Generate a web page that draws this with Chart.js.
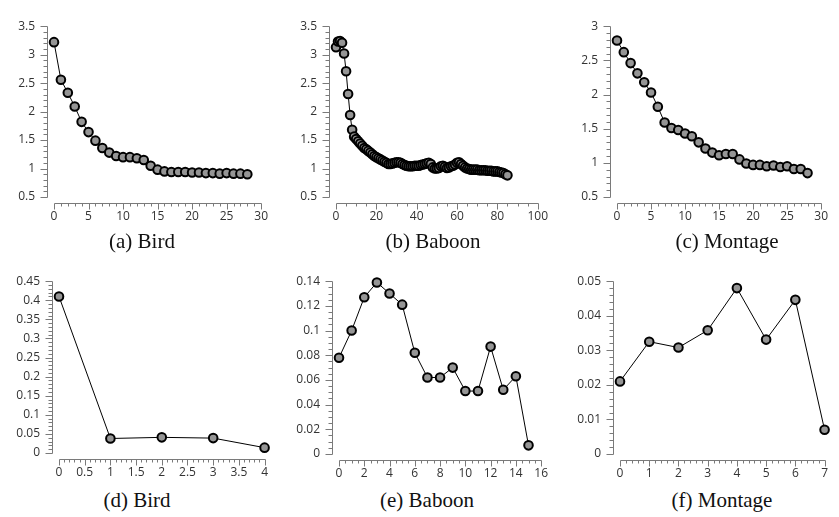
<!DOCTYPE html>
<html>
<head>
<meta charset="utf-8">
<script src="https://cdn.jsdelivr.net/npm/chart.js@4.4.0/dist/chart.umd.min.js"></script>
<style>
  body { margin: 0; background: #fff; width: 839px; height: 517px; position: relative; overflow: hidden; }
  .p { position: absolute; width: 280px; height: 230px; }
  .cap { position: absolute; width: 240px; text-align: center; font-family: "Liberation Serif", serif; font-size: 21px; line-height: 24px; color: #111; }
</style>
</head>
<body>
<canvas id="c0" class="p" width="280" height="230" style="left:0;top:0"></canvas>
<canvas id="c1" class="p" width="280" height="230" style="left:280px;top:0"></canvas>
<canvas id="c2" class="p" width="280" height="230" style="left:560px;top:0"></canvas>
<canvas id="c3" class="p" width="280" height="230" style="left:0;top:255px"></canvas>
<canvas id="c4" class="p" width="280" height="230" style="left:280px;top:255px"></canvas>
<canvas id="c5" class="p" width="280" height="230" style="left:560px;top:255px"></canvas>

<div class="cap" style="left:22px;top:229px">(a) Bird</div>
<div class="cap" style="left:313px;top:229px">(b) Baboon</div>
<div class="cap" style="left:607px;top:229px">(c) Montage</div>
<div class="cap" style="left:17px;top:488px">(d) Bird</div>
<div class="cap" style="left:307px;top:488px">(e) Baboon</div>
<div class="cap" style="left:602px;top:488px">(f) Montage</div>

<script>
// top row: loss per iteration
const birdLoss = [3.22, 2.56, 2.33, 2.09, 1.82, 1.64, 1.49, 1.36, 1.28, 1.22, 1.2, 1.2, 1.18, 1.15, 1.05, 0.98, 0.95, 0.94, 0.94, 0.94, 0.93, 0.93, 0.92, 0.92, 0.91, 0.92, 0.91, 0.91, 0.9];
const baboonLoss = [3.13, 3.23, 3.24, 3.21, 3.02, 2.71, 2.31, 1.94, 1.68, 1.56, 1.52, 1.48, 1.44, 1.4, 1.36, 1.34, 1.31, 1.28, 1.25, 1.22,
  1.2, 1.18, 1.16, 1.14, 1.12, 1.1, 1.08, 1.08, 1.09, 1.1, 1.11, 1.11, 1.1, 1.08, 1.06, 1.05, 1.04, 1.04, 1.04, 1.05,
  1.05, 1.05, 1.06, 1.07, 1.08, 1.09, 1.1, 1.08, 1.02, 1.0, 1.0, 1.01, 1.04, 1.05, 1.03, 1.01, 1.02, 1.04, 1.05, 1.07,
  1.1, 1.11, 1.08, 1.05, 1.02, 1.0, 0.99, 0.98, 0.98, 0.98, 0.98, 0.97, 0.97, 0.97, 0.97, 0.96, 0.96, 0.96, 0.95, 0.95,
  0.95, 0.94, 0.93, 0.92, 0.9, 0.88];
const montageLoss = [2.79, 2.62, 2.46, 2.31, 2.18, 2.03, 1.82, 1.59, 1.51, 1.48, 1.43, 1.39, 1.3, 1.21, 1.15, 1.11, 1.13, 1.13, 1.05, 0.99, 0.97, 0.97, 0.95, 0.96, 0.94, 0.95, 0.91, 0.91, 0.85];

// bottom row
const birdDiff = [0.41, 0.038, 0.041, 0.039, 0.014];
const baboonDiff = [0.078, 0.1, 0.127, 0.139, 0.13, 0.121, 0.082, 0.062, 0.062, 0.07, 0.051, 0.051, 0.087, 0.052, 0.063, 0.007];
const montageDiff = [0.021, 0.0325, 0.0308, 0.0358, 0.048, 0.0331, 0.0446, 0.007];

// tick labels
const lossTicks = [0.5, 1, 1.5, 2, 2.5, 3, 3.5];
const montageLossTicks = [0.5, 1, 1.5, 2, 2.5, 3];
const iterTicks30 = [0, 5, 10, 15, 20, 25, 30];
const iterTicks100 = [0, 20, 40, 60, 80, 100];
const birdDiffTicks = [0, 0.05, 0.1, 0.15, 0.2, 0.25, 0.3, 0.35, 0.4, 0.45];
const birdDiffX = [0, 0.5, 1, 1.5, 2, 2.5, 3, 3.5, 4];
const baboonDiffTicks = [0, 0.02, 0.04, 0.06, 0.08, 0.1, 0.12, 0.14];
const baboonDiffX = [0, 2, 4, 6, 8, 10, 12, 14, 16];
const montageDiffTicks = [0, 0.01, 0.02, 0.03, 0.04, 0.05];
const montageDiffX = [0, 1, 2, 3, 4, 5, 6, 7];
const minorX = [1, 5, 1, 0.1, 0.5, 0.2];
const minorY = [0.1, 0.1, 0.1, 0.01, 0.005, 0.002];

const series = [birdLoss, baboonLoss, montageLoss, birdDiff, baboonDiff, montageDiff];
const xTicks = [iterTicks30, iterTicks100, iterTicks30, birdDiffX, baboonDiffX, montageDiffX];
const yTicks = [lossTicks, lossTicks, montageLossTicks, birdDiffTicks, baboonDiffTicks, montageDiffTicks];
// plot area inside each canvas: left, right, top, bottom
const boxes = [[54, 268, 18, 197], [56, 266, 18, 197], [57, 269, 18, 197],
               [59, 268, 20, 198], [59, 267, 20, 199], [60, 268, 20, 199]];

// detached axes with major + minor ticks, like the original plots
const offsetAxes = {
  id: 'offsetAxes',
  afterDraw(chart, args, opts) {
    const { ctx, chartArea: a, scales: { x, y } } = chart;
    const yl = Math.round(a.left - 7) + 0.5;
    const xb = Math.round(a.bottom + 6) + 0.5;
    ctx.save();
    ctx.strokeStyle = '#7a7a7a';
    ctx.lineWidth = 1;
    ctx.beginPath();
    ctx.moveTo(yl, Math.round(y.getPixelForValue(y.min)) + 0.5);
    ctx.lineTo(yl, Math.round(y.getPixelForValue(y.max)) + 0.5);
    ctx.moveTo(Math.round(x.getPixelForValue(x.min)) + 0.5, xb);
    ctx.lineTo(Math.round(x.getPixelForValue(x.max)) + 0.5, xb);
    const tickRun = (scale, step, majors, draw) => {
      const n = Math.round((scale.max - scale.min) / step);
      for (let i = 0; i <= n; i++) {
        const v = scale.min + i * step;
        const major = majors.some(m => Math.abs(m - v) < step / 10);
        draw(Math.round(scale.getPixelForValue(v)) + 0.5, major);
      }
    };
    tickRun(y, opts.minorY, opts.yTicks, (p, major) => {
      ctx.moveTo(yl, p); ctx.lineTo(yl - (major ? 7 : 4), p);
    });
    tickRun(x, opts.minorX, opts.xTicks, (p, major) => {
      ctx.moveTo(p, xb); ctx.lineTo(p, xb + (major ? 6 : 3));
    });
    ctx.stroke();
    ctx.restore();
  }
};

const tickFont = { family: 'Open Sans', size: 12 };

series.forEach((vals, k) => {
  const [L, R, T, B] = boxes[k];
  const xt = xTicks[k], yt = yTicks[k];
  new Chart(document.getElementById('c' + k), {
    type: 'line',
    data: {
      datasets: [{
        data: vals.map((v, i) => ({ x: i, y: v })),
        borderColor: '#000',
        borderWidth: 1,
        pointRadius: 4.3,
        pointBorderWidth: 2,
        pointBorderColor: '#000',
        pointBackgroundColor: '#959595',
        clip: false,
        tension: 0
      }]
    },
    options: {
      responsive: false,
      animation: false,
      layout: { padding: { left: 0, top: T, right: 280 - R, bottom: 230 - B - 30 } },
      plugins: {
        legend: { display: false },
        tooltip: { enabled: false },
        offsetAxes: { xTicks: xt, yTicks: yt, minorX: minorX[k], minorY: minorY[k] }
      },
      scales: {
        x: {
          type: 'linear', min: xt[0], max: xt[xt.length - 1],
          grid: { display: false, drawTicks: false }, border: { display: false },
          afterBuildTicks: s => { s.ticks = xt.map(v => ({ value: v })); },
          afterFit: s => { s.height = 30; },
          ticks: { font: tickFont, color: '#333', padding: 12, maxRotation: 0, autoSkip: false, callback: v => String(v) }
        },
        y: {
          type: 'linear', min: yt[0], max: yt[yt.length - 1],
          grid: { display: false, drawTicks: false }, border: { display: false },
          afterBuildTicks: s => { s.ticks = yt.map(v => ({ value: v })); },
          afterFit: s => { s.width = L; },
          ticks: { font: tickFont, color: '#333', padding: 19, autoSkip: false, callback: v => String(v) }
        }
      }
    },
    plugins: [offsetAxes]
  });
});
</script>
</body>
</html>
